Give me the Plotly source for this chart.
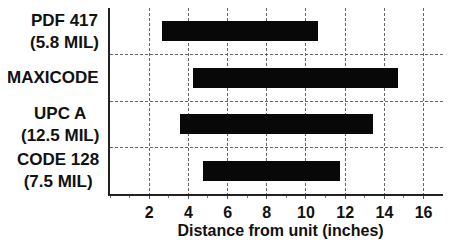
import plotly.graph_objects as go

categories = ["PDF 417<br>(5.8 MIL)", "MAXICODE", "UPC A<br>(12.5 MIL)", "CODE 128<br>(7.5 MIL)"]
range_start = [2.65, 4.23, 3.57, 4.76]
range_end = [10.6, 14.68, 13.42, 11.75]
x_ticks = [2, 4, 6, 8, 10, 12, 14, 16]

n = len(categories)
ypos = [n - i - 0.5 for i in range(n)]
lengths = [e - s for s, e in zip(range_start, range_end)]

# page body adds an 8px offset; figure sized so the plot lands where the reference has it
W, H = 443, 232
ML, MR, MT, MB = 102, 0, 0, 46
plot_w = W - ML - MR

fig = go.Figure()
fig.add_trace(go.Bar(
    y=ypos, x=lengths, base=range_start, orientation="h",
    width=0.43, marker=dict(color="#080808", line=dict(width=0)),
    showlegend=False, hoverinfo="skip",
))

for yp, lab in zip(ypos, categories):
    fig.add_annotation(
        x=-9 / plot_w, xref="paper", y=yp, yref="y", text=lab, showarrow=False,
        xanchor="right", align="center",
        font=dict(family="Liberation Sans, Arial", size=17, color="#111", weight="bold"),
    )

grid_col = "#666666"
fig.update_layout(
    width=W, height=H,
    margin=dict(l=ML, r=MR, t=MT, b=MB, autoexpand=False),
    paper_bgcolor="white", plot_bgcolor="white",
    font=dict(family="Liberation Sans, Arial", color="#111"),
    bargap=0,
    xaxis=dict(
        range=[0, 17.4], tickvals=x_ticks, ticktext=[str(v) for v in x_ticks],
        tickfont=dict(size=16, family="Liberation Sans, Arial", weight="bold"),
        showgrid=True, gridcolor=grid_col, griddash="3px,2px", gridwidth=1,
        showline=True, linecolor="#222", linewidth=1.5, mirror=True,
        ticks="outside", ticklen=3, tickcolor="#555",
        ticklabelstandoff=0,
        minor=dict(dtick=1, tick0=0, ticks="outside", ticklen=2, tickcolor="#777", showgrid=False),
        title=dict(text="Distance from unit (inches)",
                   font=dict(size=16, family="Liberation Sans, Arial", weight="bold"),
                   standoff=5),
        zeroline=False,
    ),
    yaxis=dict(
        range=[0, 4], tickvals=[], showticklabels=False,
        showgrid=False, zeroline=False,
        showline=True, linecolor="#222", linewidth=1.5, mirror=False,
        minor=dict(tickvals=[1, 2, 3], showgrid=True, gridcolor=grid_col,
                   griddash="3px,2px", gridwidth=1, ticks=""),
    ),
)

fig.write_html("out.html")
